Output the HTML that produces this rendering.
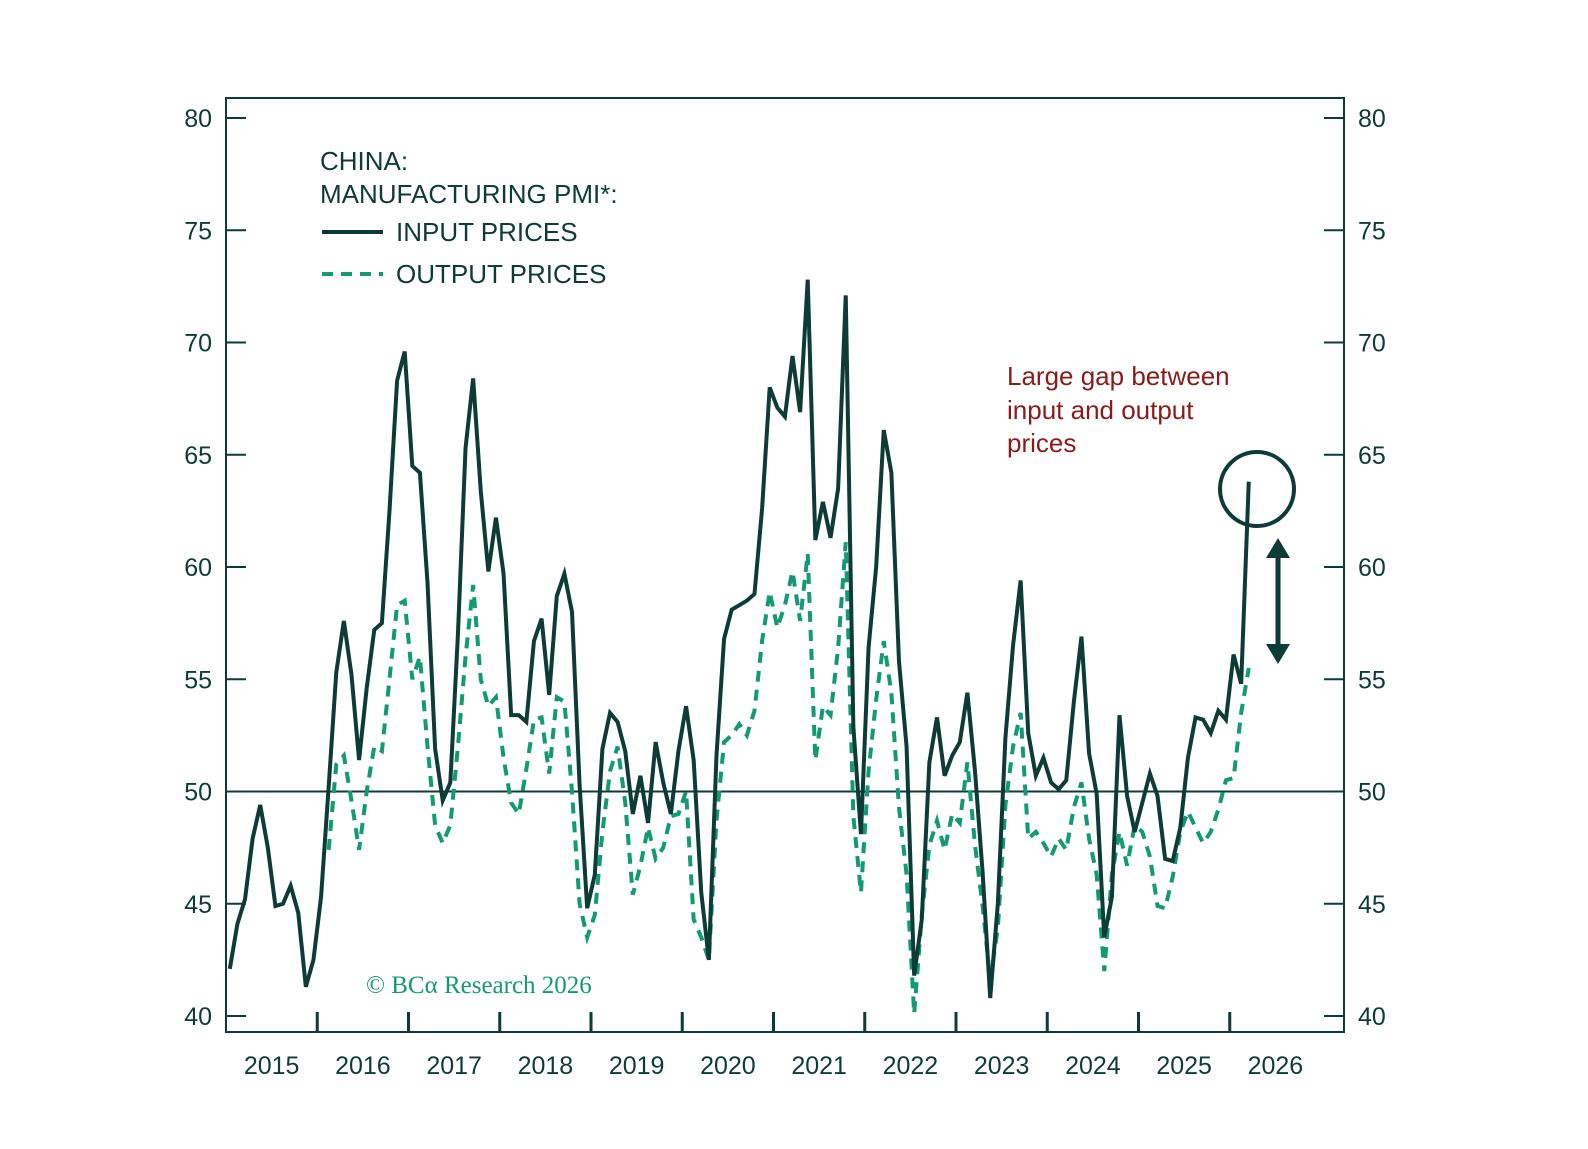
<!DOCTYPE html>
<html><head><meta charset="utf-8"><style>
html,body{margin:0;padding:0;background:#fff}
svg text{font-family:"Liberation Sans",sans-serif}
</style></head><body>
<svg id="chart" width="1588" height="1144" viewBox="0 0 1588 1144" xmlns="http://www.w3.org/2000/svg">
<rect x="0" y="0" width="1588" height="1144" fill="#fff"/>
<g id="axes"></g>
<g id="series"></g>
<g fill="#0d3b36" font-size="26">
<text x="320" y="170">CHINA:</text>
<text x="320" y="203">MANUFACTURING PMI*:</text>
<line x1="322" y1="232" x2="383" y2="232" stroke="#0d3b36" stroke-width="4"/>
<text x="396" y="241">INPUT PRICES</text>
<line x1="322" y1="274" x2="383" y2="274" stroke="#129a74" stroke-width="4" stroke-dasharray="11,8"/>
<text x="396" y="283">OUTPUT PRICES</text>
</g>
<g fill="#8b1a1a" font-size="26">
<text x="1007" y="385">Large gap between</text>
<text x="1007" y="419">input and output</text>
<text x="1007" y="452">prices</text>
</g>
<circle cx="1257" cy="489" r="37" fill="none" stroke="#0d3b36" stroke-width="4"/>
<g>
<line x1="1278" y1="552" x2="1278" y2="650" stroke="#0d3b36" stroke-width="5"/>
<polygon points="1266,558 1278,538 1290,558" fill="#0d3b36"/>
<polygon points="1266,644 1278,664 1290,644" fill="#0d3b36"/>
</g>
<text x="366" y="993" fill="#129a74" font-size="25" style="font-family:'Liberation Serif',serif">© BCα Research 2026</text>
</svg>
<script>
const yTicks=[40,45,50,55,60,65,70,75,80];
const years=["2015","2016","2017","2018","2019","2020","2021","2022","2023","2024","2025","2026"];
const inputPrices=[42.1,44.1,45.2,47.9,49.4,47.5,44.9,45.0,45.8,44.6,41.3,42.5,
45.3,50.2,55.3,57.6,55.2,51.4,54.6,57.2,57.5,62.5,68.3,69.6,
64.5,64.2,59.3,51.9,49.6,50.4,57.0,65.3,68.4,63.4,59.8,62.2,
59.7,53.4,53.4,53.1,56.7,57.7,54.3,58.7,59.7,58.0,50.3,44.8,
46.3,51.9,53.5,53.1,51.8,49.0,50.7,48.6,52.2,50.4,49.0,51.8,
53.8,51.4,45.5,42.5,51.6,56.8,58.1,58.3,58.5,58.8,62.6,68.0,
67.1,66.7,69.4,66.9,72.8,61.2,62.9,61.3,63.5,72.1,52.9,48.1,
56.4,60.0,66.1,64.2,55.8,52.0,41.8,44.3,51.3,53.3,50.7,51.6,
52.2,54.4,50.9,46.4,40.8,45.0,52.4,56.5,59.4,52.6,50.7,51.5,
50.4,50.1,50.5,54.0,56.9,51.7,49.9,43.5,45.3,53.4,49.8,48.2,
49.5,50.8,49.8,47.0,46.9,48.4,51.5,53.3,53.2,52.6,53.6,53.2,
56.1,54.8,63.8];
const outputStart=13;
const outputPrices=[47.4,51.2,51.6,49.6,47.4,50.0,52.0,51.8,55.0,58.3,58.5,
55.0,56.0,52.0,48.5,47.7,48.5,52.0,56.0,59.2,55.0,53.8,54.2,
51.5,49.5,49.0,51.0,53.2,53.3,50.8,54.2,54.0,50.0,45.0,43.5,
44.5,48.2,50.9,52.0,49.5,45.4,46.7,48.4,47.0,47.5,48.9,49.0,
50.0,44.3,43.5,42.5,48.7,52.2,52.5,53.0,52.5,53.6,56.7,58.9,
57.3,58.3,59.8,57.6,60.6,51.4,53.8,53.4,56.4,61.1,48.9,45.5,
50.9,54.1,56.7,54.4,49.3,46.3,40.1,44.5,47.6,48.7,47.4,49.0,
48.6,51.3,47.6,44.9,41.6,43.9,49.4,52.0,53.5,47.9,48.2,47.7,
47.1,47.9,47.4,49.3,50.4,47.9,46.3,42.0,46.3,48.2,46.7,48.5,
48.2,47.1,44.9,44.8,46.2,48.2,49.1,48.4,47.7,48.2,49.2,50.5,
50.6,53.5,55.5];
const NS="http://www.w3.org/2000/svg";
const L=226,R=1344,T=98,B=1032,MW=(1321-226)/144;
function y(v){return 1016-(v-40)*(1016-118)/40;}
function x(i){return L+(i+0.5)*MW;}
function mk(tag,attrs,parent){const e=document.createElementNS(NS,tag);for(const k in attrs)e.setAttribute(k,attrs[k]);parent.appendChild(e);return e;}
const ax=document.getElementById('axes');
const frame=mk('rect',{x:L,y:T,width:R-L,height:B-T,fill:'none',stroke:'#0d3b36','stroke-width':2},ax);


yTicks.forEach(v=>{
 const yy=y(v);
 const t1=mk('line',{x1:L,x2:L+20,y1:yy,y2:yy,stroke:'#0d3b36','stroke-width':2},ax);
 
 
 const t2=mk('line',{x1:R-20,x2:R,y1:yy,y2:yy,stroke:'#0d3b36','stroke-width':2},ax);
 
 
 const a=mk('text',{x:212,y:yy+9,'text-anchor':'end','font-size':25,fill:'#0d3b36'},ax);a.textContent=v;
 
 
 const b=mk('text',{x:1358,y:yy+9,'font-size':25,fill:'#0d3b36'},ax);b.textContent=v;
 
 
});
const ref=mk('line',{x1:L,x2:R,y1:y(50),y2:y(50),stroke:'#0d3b36','stroke-width':2},ax);


years.forEach((yr,i)=>{
 const tx=L+(i+1)*12*MW;
 if(i<years.length-1){const tk=mk('line',{x1:tx,x2:tx,y1:B-20,y2:B,stroke:'#0d3b36','stroke-width':3},ax);
 
 }
 const lb=mk('text',{x:L+(i+0.5)*12*MW,y:1074,'text-anchor':'middle','font-size':25,fill:'#0d3b36'},ax);lb.textContent=yr;
 
 
});
const sg=document.getElementById('series');
const op=mk('polyline',{points:outputPrices.map((v,i)=>x(i+outputStart)+','+y(v)).join(' '),fill:'none',stroke:'#129a74','stroke-width':4,'stroke-dasharray':'11,8'},sg);


const ip=mk('polyline',{points:inputPrices.map((v,i)=>x(i)+','+y(v)).join(' '),fill:'none',stroke:'#0d3b36','stroke-width':4,'stroke-linejoin':'miter'},sg);


</script>
</body></html>
